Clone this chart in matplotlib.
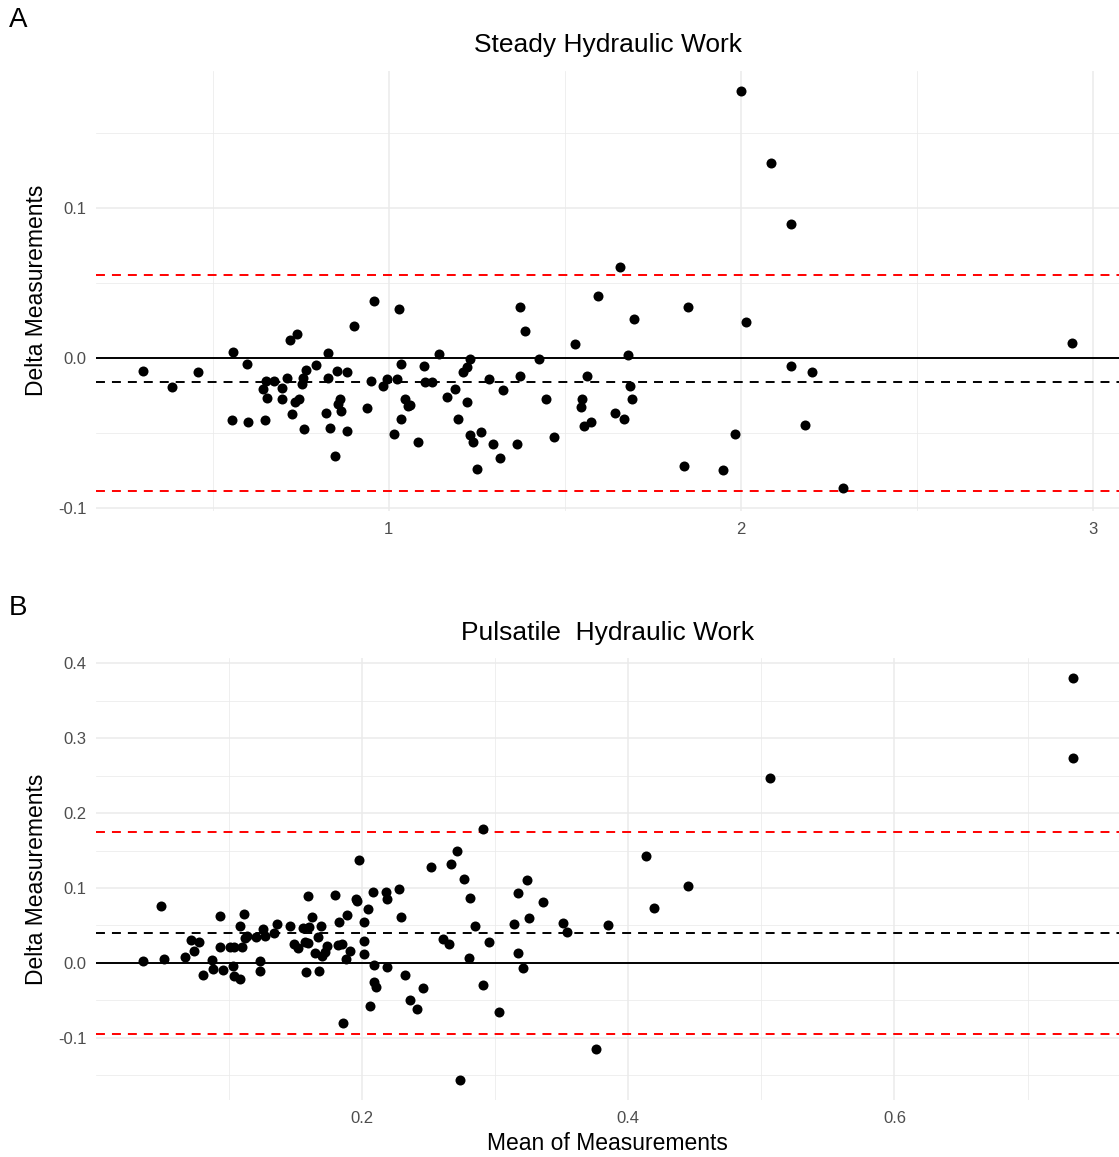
import numpy as np
import matplotlib
matplotlib.use("Agg")
import matplotlib.pyplot as plt
from matplotlib.ticker import MultipleLocator

plt.rcParams['font.family'] = ['Liberation Sans', 'DejaVu Sans']

# panel A - steady hydraulic work (mean, delta)
steady_mean = [0.300, 0.383, 0.457, 0.557, 0.597, 0.554, 0.599, 0.648, 0.650, 0.674,
               0.643, 0.655, 0.697, 0.697, 0.710, 0.718, 0.739, 0.725, 0.733, 0.746,
               0.759, 0.754, 0.756, 0.765, 0.793, 0.826, 0.828, 0.852, 0.881, 0.821,
               0.832, 0.860, 0.856, 0.863, 0.881, 0.847, 0.901, 0.959, 1.028, 0.937,
               0.949, 0.984, 0.994, 1.023, 1.036, 1.046, 1.055, 1.060, 1.036, 1.014,
               1.082, 1.100, 1.102, 1.123, 1.142, 1.164, 1.188, 1.196, 1.211, 1.221,
               1.232, 1.222, 1.230, 1.239, 1.262, 1.251, 1.285, 1.295, 1.325, 1.316,
               1.364, 1.373, 1.386, 1.374, 1.428, 1.448, 1.470, 1.528, 1.562, 1.549,
               1.545, 1.555, 1.576, 1.595, 1.658, 1.642, 1.668, 1.679, 1.685, 1.691,
               1.697, 1.850, 1.838, 1.950, 1.985, 2.016, 2.144, 2.204, 2.184, 2.290,
               2.000, 2.085, 2.142, 2.943]
steady_delta = [-0.0084, -0.0195, -0.0093, 0.0038, -0.0042, -0.0412, -0.0427, -0.0412, -0.0151, -0.0153,
                -0.0208, -0.0264, -0.0201, -0.0272, -0.0133, 0.0118, 0.0159, -0.0372, -0.0290, -0.0272,
                -0.0474, -0.0175, -0.0135, -0.0082, -0.0049, 0.0031, -0.0135, -0.0086, -0.0091, -0.0363,
                -0.0463, -0.0270, -0.0308, -0.0352, -0.0485, -0.0653, 0.0211, 0.0379, 0.0328, -0.0334,
                -0.0153, -0.0186, -0.0142, -0.0142, -0.0042, -0.0270, -0.0319, -0.0314, -0.0403, -0.0503,
                -0.0556, -0.0055, -0.0161, -0.0161, 0.0029, -0.0261, -0.0204, -0.0403, -0.0095, -0.0062,
                -0.0009, -0.0294, -0.0510, -0.0556, -0.0494, -0.0736, -0.0140, -0.0571, -0.0215, -0.0666,
                -0.0571, 0.0339, 0.0177, -0.0122, -0.0005, -0.0272, -0.0523, 0.0091, -0.0122, -0.0272,
                -0.0326, -0.0452, -0.0425, 0.0412, 0.0609, -0.0363, -0.0405, 0.0018, -0.0184, -0.0274,
                0.0259, 0.0337, -0.0716, -0.0744, -0.0505, 0.0239, -0.0053, -0.0093, -0.0445, -0.0864,
                0.178, 0.130, 0.0890, 0.0100]
steady_bias = -0.0162
steady_loa = [0.0551, -0.0884]

# panel B - pulsatile hydraulic work (mean, delta)
puls_mean = [0.035, 0.0489, 0.0511, 0.0671, 0.0712, 0.0772, 0.0739, 0.0802, 0.0872, 0.0882,
             0.0953, 0.0932, 0.0932, 0.1008, 0.1038, 0.1032, 0.1038, 0.1083, 0.1083, 0.1111,
             0.1100, 0.1120, 0.1138, 0.1201, 0.1233, 0.1233, 0.1258, 0.1271, 0.1338, 0.1359,
             0.1455, 0.1489, 0.1521, 0.1559, 0.1602, 0.1571, 0.1592, 0.1592, 0.1626, 0.1671,
             0.1689, 0.1647, 0.1702, 0.1739, 0.1722, 0.1579, 0.1679, 0.1799, 0.1829, 0.1889,
             0.1822, 0.1852, 0.1910, 0.1880, 0.1953, 0.1962, 0.1977, 0.2017, 0.2047, 0.2013,
             0.2013, 0.2080, 0.2092, 0.2090, 0.2103, 0.2058, 0.2178, 0.2188, 0.2188, 0.2280,
             0.2291, 0.2321, 0.2461, 0.2361, 0.2411, 0.2521, 0.2607, 0.2650, 0.2669, 0.2714,
             0.2769, 0.2812, 0.2806, 0.2847, 0.2908, 0.2950, 0.2908, 0.3028, 0.2739, 0.3141,
             0.3171, 0.3241, 0.3256, 0.3168, 0.3208, 0.3359, 0.3506, 0.3539, 0.3847, 0.3757,
             0.4135, 0.4195, 0.4451, 0.5068, 0.7338, 0.7338, 0.1857]
puls_delta = [0.0027, 0.0756, 0.0057, 0.0076, 0.0307, 0.0280, 0.0160, -0.0156, 0.0040, -0.0080,
              -0.0097, 0.0627, 0.0217, 0.0209, 0.0217, -0.0040, -0.0169, -0.0213, 0.0493, 0.0657,
              0.0209, 0.0329, 0.0360, 0.0343, 0.0031, -0.0111, 0.0449, 0.0360, 0.0396, 0.0523,
              0.0493, 0.0253, 0.0196, 0.0463, 0.0476, 0.0284, 0.0263, 0.0893, 0.0613, 0.0351,
              0.0497, 0.0137, 0.0097, 0.0227, 0.0151, -0.0124, -0.0111, 0.0903, 0.0547, 0.0644,
              0.0240, 0.0253, 0.0160, 0.0057, 0.0853, 0.0827, 0.1373, 0.0547, 0.0716, 0.0289,
              0.0116, 0.0943, -0.0027, -0.0253, -0.0316, -0.0569, 0.0951, 0.0857, -0.0049, 0.0991,
              0.0609, -0.0156, -0.0337, -0.0493, -0.0613, 0.1280, 0.0324, 0.0253, 0.1320, 0.1489,
              0.1120, 0.0871, 0.0064, 0.0493, 0.1791, 0.0284, -0.0293, -0.0653, -0.1560, 0.0516,
              0.0933, 0.1107, 0.0596, 0.0133, -0.0071, 0.0813, 0.0529, 0.0413, 0.0507, -0.1151,
              0.1423, 0.0733, 0.1027, 0.2467, 0.3800, 0.2733, -0.0800]
puls_bias = 0.0400
puls_loa = [0.1745, -0.0945]

W, H = 1119, 1157
fig = plt.figure(figsize=(W / 100, H / 100), dpi=100)


def px_axes(left, top, right, bottom):
    return fig.add_axes([left / W, 1 - bottom / H, (right - left) / W, (bottom - top) / H])


def panel(ax, x, y, bias, loa, title, xmaj, ymaj):
    x = np.array(x)
    y = np.array(y)
    lo = min(y.min(), min(loa))
    hi = max(y.max(), max(loa))
    ax.set_xlim(x.min() - 0.05 * np.ptp(x), x.max() + 0.05 * np.ptp(x))
    ax.set_ylim(lo - 0.05 * (hi - lo), hi + 0.05 * (hi - lo))
    ax.xaxis.set_major_locator(MultipleLocator(xmaj))
    ax.xaxis.set_minor_locator(MultipleLocator(xmaj / 2))
    ax.yaxis.set_major_locator(MultipleLocator(ymaj))
    ax.yaxis.set_minor_locator(MultipleLocator(ymaj / 2))
    ax.grid(True, which='major', color='#EBEBEB', lw=1.1)
    ax.grid(True, which='minor', color='#EBEBEB', lw=0.55)
    ax.set_axisbelow(True)
    for s in ax.spines.values():
        s.set_visible(False)
    ax.tick_params(which='both', length=0, labelsize=12, labelcolor='#4D4D4D')
    ax.tick_params(axis='y', pad=7)
    ax.tick_params(axis='x', pad=8)
    ax.axhline(0, color='black', lw=1.4, zorder=2)
    ax.axhline(bias, color='black', lw=1.4, dashes=(4.6, 3.6), zorder=2)
    for v in loa:
        ax.axhline(v, color='#FF0000', lw=1.4, dashes=(4.6, 3.6), zorder=2)
    ax.scatter(x, y, s=52, color='black', linewidths=0, zorder=3)
    ax.set_title(title, fontsize=19, pad=13)
    ax.set_ylabel('Delta Measurements', fontsize=16.5)
    ax.yaxis.set_label_coords(-59 / 1023, 0.5)
    ax.yaxis.label.set_va('center')


axA = px_axes(96, 70.5, 1119, 511)
panel(axA, steady_mean, steady_delta, steady_bias, steady_loa,
      'Steady Hydraulic Work', 1, 0.1)
axA.yaxis.set_major_formatter(plt.FuncFormatter(lambda v, p: '%.1f' % v))

axB = px_axes(96, 658, 1119, 1100)
panel(axB, puls_mean, puls_delta, puls_bias, puls_loa,
      'Pulsatile  Hydraulic Work', 0.2, 0.1)
axB.yaxis.set_major_formatter(plt.FuncFormatter(lambda v, p: '%.1f' % v))
axB.set_xlabel('Mean of Measurements', fontsize=16.5)
axB.xaxis.set_label_coords(0.5, -43 / 442)
axB.xaxis.label.set_va('center')

fig.text(18 / W, 1 - 20 / H, 'A', fontsize=20, ha='center', va='center')
fig.text(18 / W, 1 - 608 / H, 'B', fontsize=20, ha='center', va='center')

fig.savefig('out.png', dpi=100)
